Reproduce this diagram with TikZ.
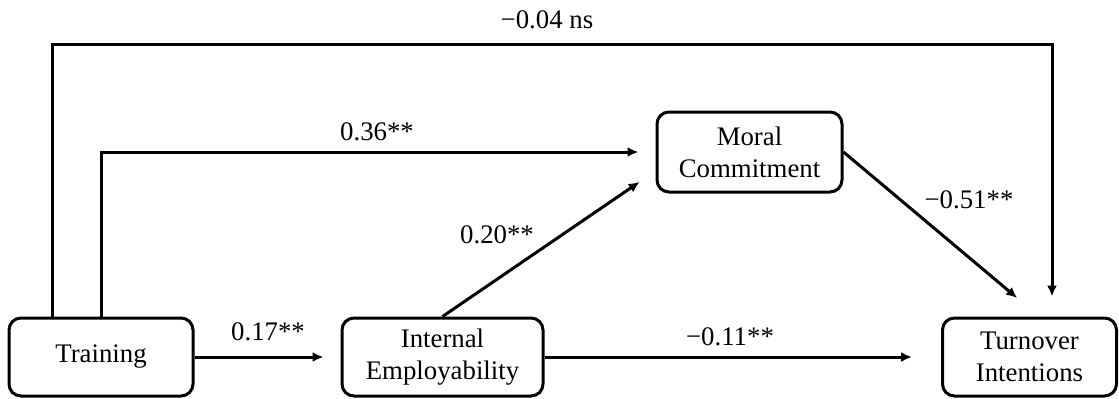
\documentclass[tikz,border=0pt]{standalone}
\usepackage{fontspec}
\setmainfont{Liberation Serif}
\usetikzlibrary{arrows.meta}
\begin{document}
\begin{tikzpicture}[x=0.5pt,y=-0.5pt,
  box/.style={draw,line width=1.5pt,rounded corners=6pt,align=center,inner sep=0pt,
    font=\fontsize{13.4}{16}\selectfont},
  lbl/.style={font=\fontsize{13.4}{16}\selectfont,inner sep=0pt},
  conn/.style={line width=1.5pt,-{Latex[length=5.5pt,width=5pt]}}]
\useasboundingbox (0,0) rectangle (1119,398);
\node[box,minimum width=92pt,minimum height=39pt] (TR) at (101,357) {Training};
\node[box,minimum width=100.5pt,minimum height=39pt] (IE) at (442.5,357) {Internal\\Employability};
\node[box,minimum width=92.5pt,minimum height=40pt] (MC) at (749.5,152) {Moral\\Commitment};
\node[box,minimum width=87pt,minimum height=39pt] (TI) at (1029.5,357) {Turnover\\Intentions};
\coordinate (ctl) at (52,44);
\coordinate (ctr) at (1052,44);
\coordinate (m20) at (657,170);
\coordinate (m51) at (1041,318);
\draw[conn,shorten >=8.5pt] (TR.east) -- (IE.west);
\draw[conn,shorten >=14.5pt] (IE.east) -- (TI.west);
\draw[conn,shorten >=8.5pt] (TR.north) |- (MC.west);
\draw[conn,shorten >=10.5pt] (IE.north) -- (m20);
\draw[conn,shorten >=15.5pt] (MC.east) -- (m51);
\draw[conn,shorten >=10pt] (TR.north -| ctl) -- (ctl) -- (ctr) -- (ctr |- TI.north);
\node[lbl] (l04) at (547,20) {−0.04 ns};
\node[lbl] (l17) at (268,332) {0.17**};
\node[lbl] (l36) at (377,132) {0.36**};
\node[lbl] (l20) at (497,235) {0.20**};
\node[lbl] (l51) at (969,200) {−0.51**};
\node[lbl] (l11) at (730,337) {−0.11**};
\end{tikzpicture}
\end{document}
